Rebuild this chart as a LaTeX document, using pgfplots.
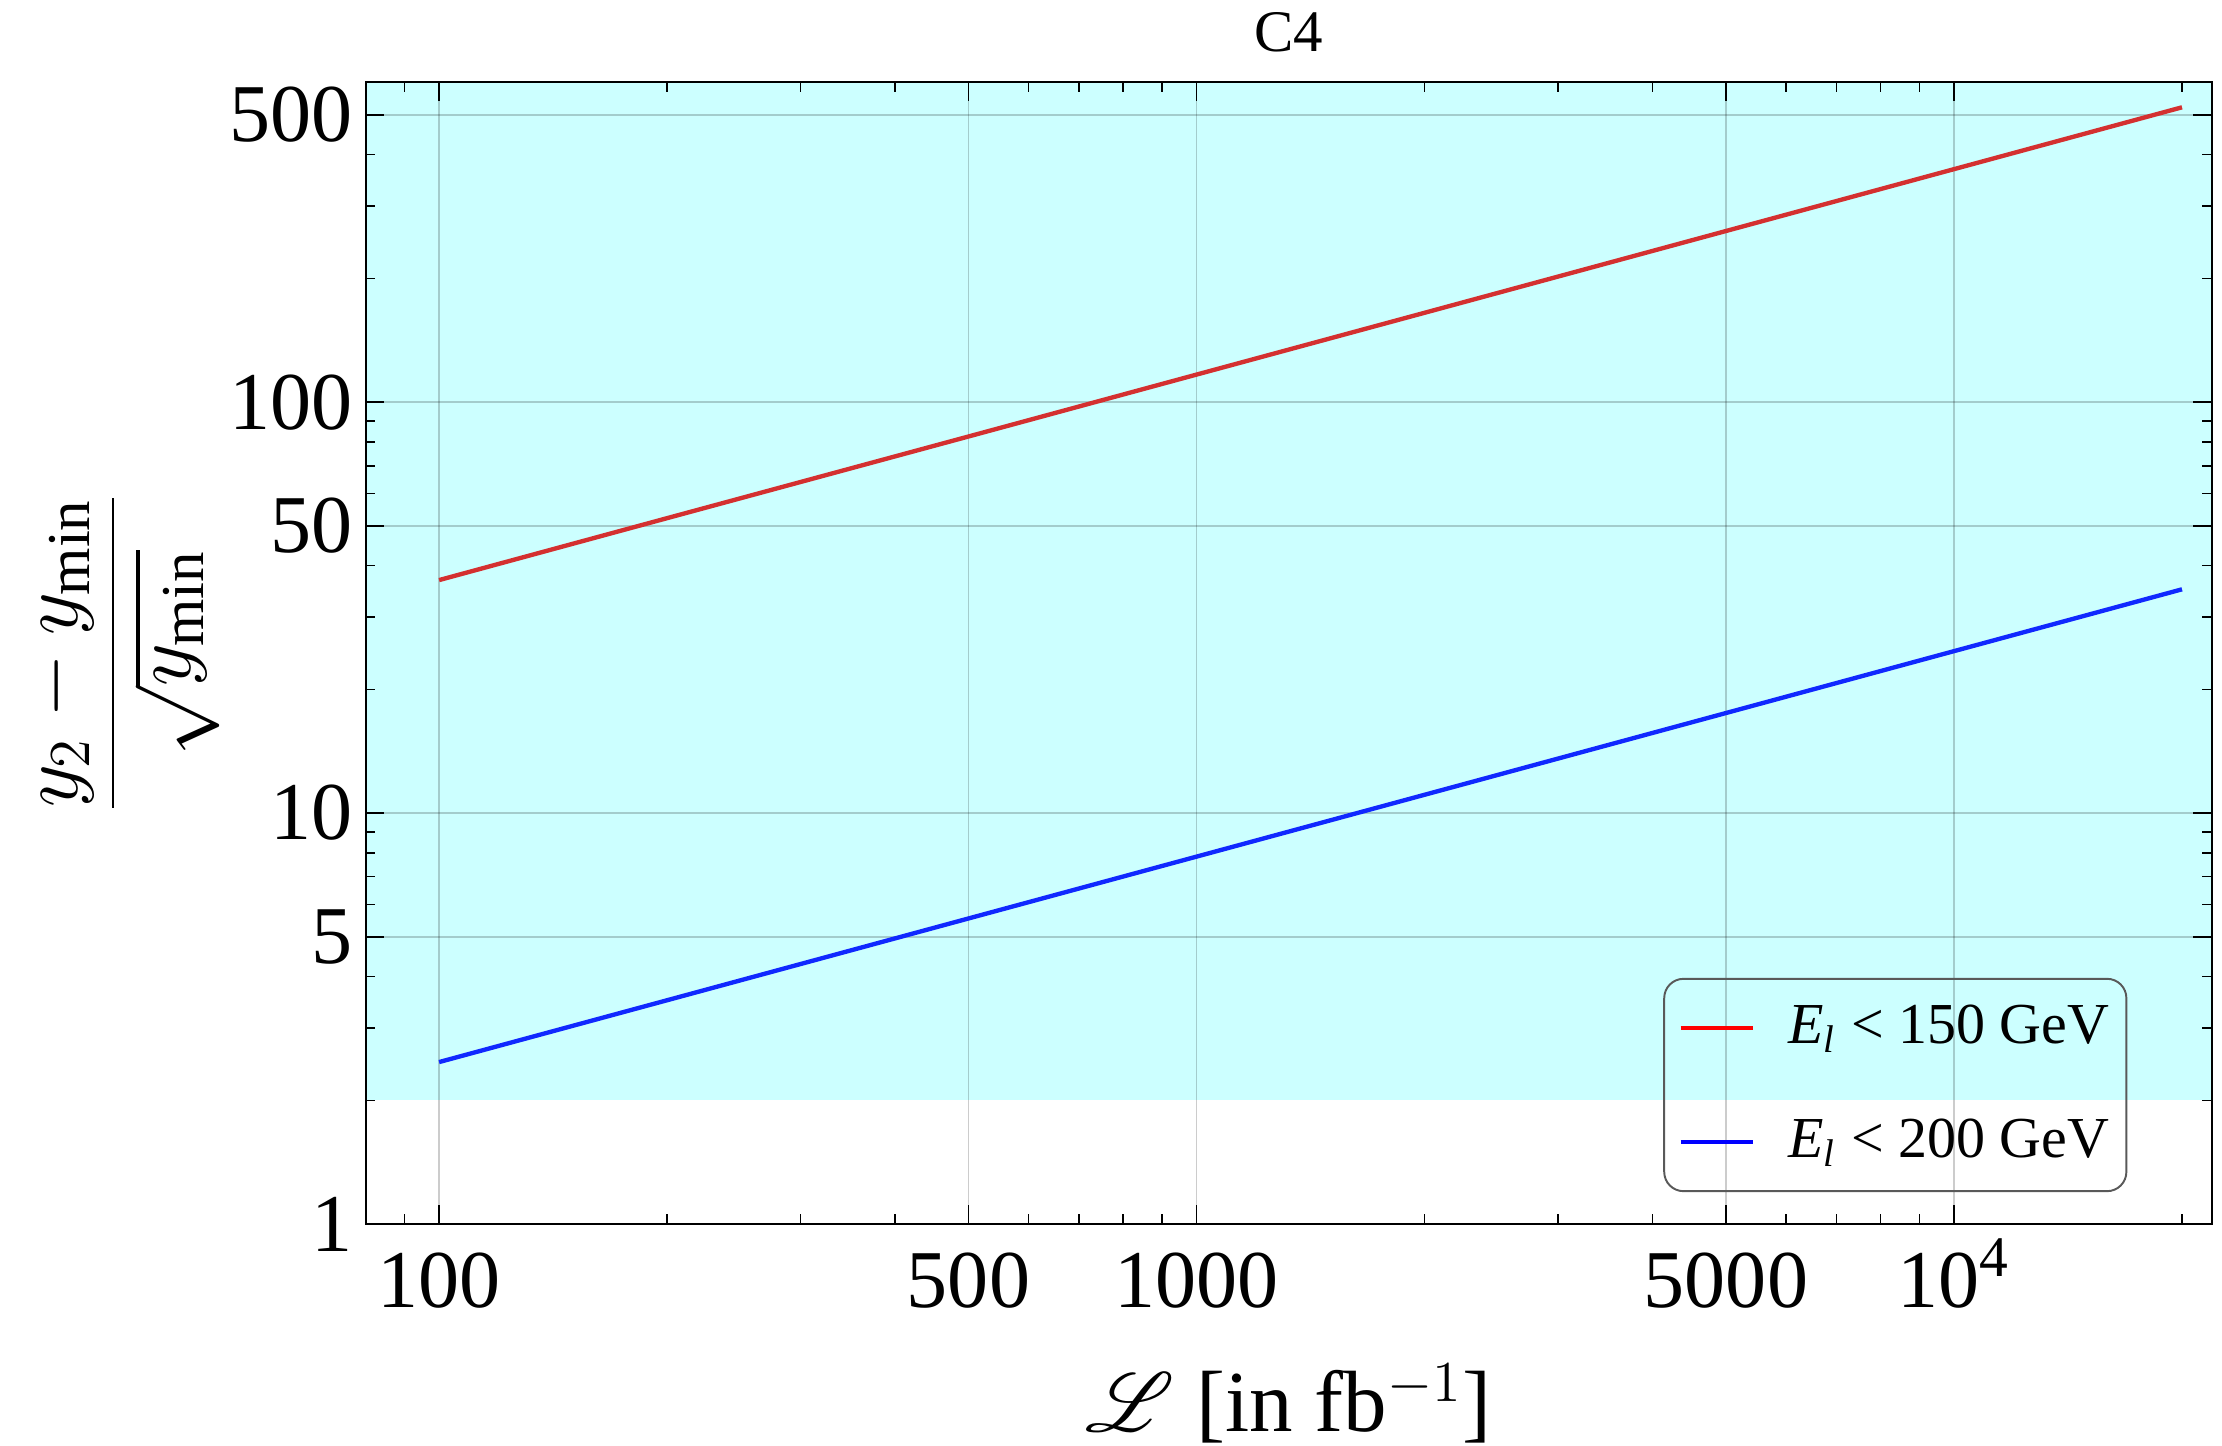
\documentclass[border=0pt]{standalone}
\usepackage{fontspec}
\setmainfont{Liberation Serif}
\usepackage{mathrsfs}
\usepackage{pgfplots}
\pgfplotsset{compat=1.18}
\definecolor{cyanfill}{RGB}{204,255,255}
\definecolor{redline}{RGB}{212,48,48}
\definecolor{blueline}{RGB}{16,40,255}
\begin{document}
\begin{tikzpicture}
\begin{axis}[
  scale only axis, width=382.2pt, height=236.4pt,
  xmode=log, ymode=log,
  xmin=80, xmax=21900, ymin=1, ymax=601,
  set layers,
  xtick={100,500,1000,5000,10000},
  xticklabels={100,500,1000,5000,10\textsuperscript{4}},
  minor xtick={80,90,200,300,400,600,700,800,900,2000,3000,4000,6000,7000,8000,9000,20000},
  ytick={1,5,10,50,100,500},
  yticklabels={1,5,10,50,100,500},
  minor ytick={2,3,4,6,7,8,9,20,30,40,60,70,80,90,200,300,400,600},
  xmajorgrids, ymajorgrids,
  major grid style={black, opacity=0.2, line width=0.3pt},
  tick style={black, line width=0.3pt},
  major tick length=3.9pt, minor tick length=2pt,
  tick align=inside,
  axis line style={line width=0.45pt},
  ticklabel style={font=\fontsize{17}{20}\selectfont},
  xticklabel style={text height=11.6pt, inner sep=5.4pt, anchor=north},
  yticklabel style={inner sep=2.5pt, anchor=east},
  title={C4},
  every axis title/.style={at={(0.5,1)}, anchor=base, yshift=6.4pt, font=\fontsize{12.2}{14}\selectfont},
  xlabel={$\mathscr{L}$ [in fb$^{-1}$]},
  every axis x label/.style={at={([yshift=-43pt]axis description cs:0.5,0)}, anchor=base, font=\fontsize{18}{21}\selectfont},
  ylabel={$\displaystyle\frac{y_2-y_{\min}}{\sqrt{y_{\min}}}$},
  every axis y label/.style={at={(axis description cs:-0.0785,0.5)}, rotate=90, anchor=south, inner sep=0pt, font=\fontsize{18}{22}\selectfont},
  legend style={at={(1,0)}, anchor=south east, xshift=-17.5pt, yshift=6.6pt,
    draw=black!65, rounded corners=4pt, fill=none,
    font=\fontsize{12}{14}\selectfont,
    inner xsep=3pt, inner ysep=5pt, row sep=13pt, column sep=6.4pt,
    nodes={inner sep=0.5pt}},
  legend cell align=left,
]
\addplot[draw=none, fill=cyanfill, forget plot, on layer=axis background]
  coordinates {(80,2) (21900,2) (21900,601) (80,601)} -- cycle;
\addplot[redline, line width=0.9pt,
  legend image code/.code={\draw[red, line width=0.8pt] (0pt,0pt) -- (15pt,0pt);}]
  coordinates {(100,36.9) (200,52.2) (500,82.5) (1000,116.7) (2000,165.0) (5000,260.9) (10000,369.0) (20000,521.8)};
\addlegendentry{\textit{E}\textsubscript{\textit{l}} < 150 GeV}
\addplot[blueline, line width=0.9pt,
  legend image code/.code={\draw[blue, line width=0.8pt] (0pt,0pt) -- (15pt,0pt);}]
  coordinates {(100,2.478) (200,3.504) (500,5.541) (1000,7.836) (2000,11.08) (5000,17.52) (10000,24.78) (20000,35.04)};
\addlegendentry{\textit{E}\textsubscript{\textit{l}} < 200 GeV}
\end{axis}
\pgfresetboundingbox
\path[use as bounding box] ([shift={(-75.7pt,-45.8pt)}]current axis.south west) rectangle ([shift={(2.1pt,17pt)}]current axis.north east);
\end{tikzpicture}
\end{document}
